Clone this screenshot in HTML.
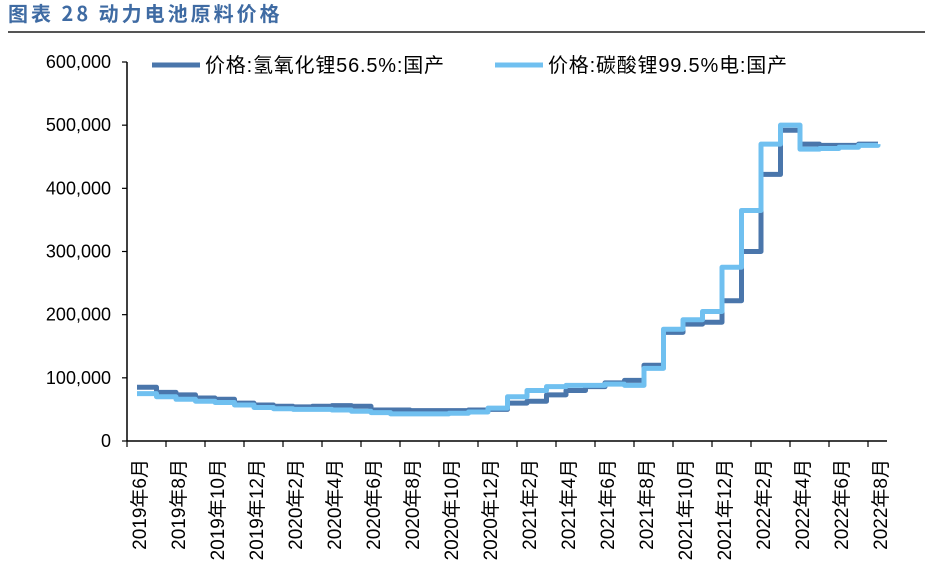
<!DOCTYPE html>
<html><head><meta charset="utf-8"><style>
body{margin:0;background:#fff;width:931px;height:569px;overflow:hidden}
svg{display:block;font-family:"Liberation Sans","Noto Sans CJK SC",sans-serif}
</style></head><body>
<svg id="c" width="931" height="569">
<text x="8" y="21" font-size="20" font-weight="bold" letter-spacing="3" fill="#3f6ba3" font-family="'Noto Sans CJK SC',sans-serif">图表 28 动力电池原料价格</text>
<rect x="8" y="31" width="917" height="2" fill="#555"/>
<g id="legend">
<line x1="152" y1="65" x2="200" y2="65" stroke="#4a76ab" stroke-width="5"/>
<text x="205" y="72" font-size="20" letter-spacing="0.8" fill="#000">价格:氢氧化锂56.5%:国产</text>
<line x1="495" y1="65" x2="543" y2="65" stroke="#70c0f0" stroke-width="5"/>
<text x="548" y="72" font-size="20" letter-spacing="0.8" fill="#000">价格:碳酸锂99.5%电:国产</text>
</g>
<g id="axes"></g>
<g id="series"></g>
</svg>
<script>
const yTicks=[0,100000,200000,300000,400000,500000,600000];
const yTickLabels=["0","100,000","200,000","300,000","400,000","500,000","600,000"];
const xLabels=["2019年6月","2019年8月","2019年10月","2019年12月","2020年2月","2020年4月","2020年6月","2020年8月","2020年10月","2020年12月","2021年2月","2021年4月","2021年6月","2021年8月","2021年10月","2021年12月","2022年2月","2022年4月","2022年6月","2022年8月"];
const hydroxide=[85000,77000,73000,68000,66000,60000,57000,55000,54000,55000,56000,55000,49000,49000,48000,48000,48000,49000,50000,60000,63000,73000,80000,86000,92000,96000,120000,172000,185000,188000,222000,300000,422000,492000,470000,468000,468000,470000,470000];
const carbonate=[75000,70000,66000,63000,61000,57000,53000,51000,50000,50000,49000,47000,45000,43000,43000,43000,44000,46000,52000,70000,80000,86000,88000,88000,90000,88000,115000,177000,192000,205000,275000,365000,470000,500000,462000,463000,465000,468000,470000];
const NS="http://www.w3.org/2000/svg";
const X0=127,X1=887,Y0=441,Y1=62,MONTH=19.5;
const yScale=v=>Y0-(v/600000)*(Y0-Y1);
const xPoint=i=>137+MONTH*i;
const xTick=i=>X0+39*i;
function mk(t,a,p){const e=document.createElementNS(NS,t);for(const k in a)e.setAttribute(k,a[k]);(p||document.getElementById('axes')).appendChild(e);return e;}
let l=mk('line',{x1:X0,y1:Y1,x2:X0,y2:Y0,stroke:'#000','stroke-width':1.5});


l=mk('line',{x1:X0,y1:Y0,x2:X1,y2:Y0,stroke:'#000','stroke-width':1.5});


yTicks.forEach((v,i)=>{
 const y=yScale(v);
 const t=mk('line',{x1:X0-5,y1:y,x2:X0,y2:y,stroke:'#000','stroke-width':1.2});
 
 
 const tx=mk('text',{x:111,y:y+6,'font-size':18,'text-anchor':'end',fill:'#000'});
 tx.textContent=yTickLabels[i];
 
 
});
xLabels.forEach((s,i)=>{
 const x=xTick(i);
 const t=mk('line',{x1:x,y1:Y0,x2:x,y2:Y0+6,stroke:'#000','stroke-width':1.2});
 
 
 const cx=x+14;
 const tx=mk('text',{x:cx,y:459,'font-size':19,'text-anchor':'end',fill:'#000',transform:`rotate(-90 ${cx} 459)`,'dominant-baseline':'middle'});
 tx.textContent=s;
 
 
});
function stepPath(vals){
 let d=`M${xPoint(0)},${yScale(vals[0])}`;
 for(let i=1;i<vals.length;i++){d+=`H${xPoint(i)}V${yScale(vals[i])}`;}
 return d;
}
const sg=document.getElementById('series');
let p=mk('path',{d:stepPath(hydroxide),fill:'none',stroke:'#4a76ab','stroke-width':5,'stroke-linejoin':'round'},sg);


p=mk('path',{d:stepPath(carbonate),fill:'none',stroke:'#70c0f0','stroke-width':5,'stroke-linejoin':'round'},sg);


</script>
</body></html>
